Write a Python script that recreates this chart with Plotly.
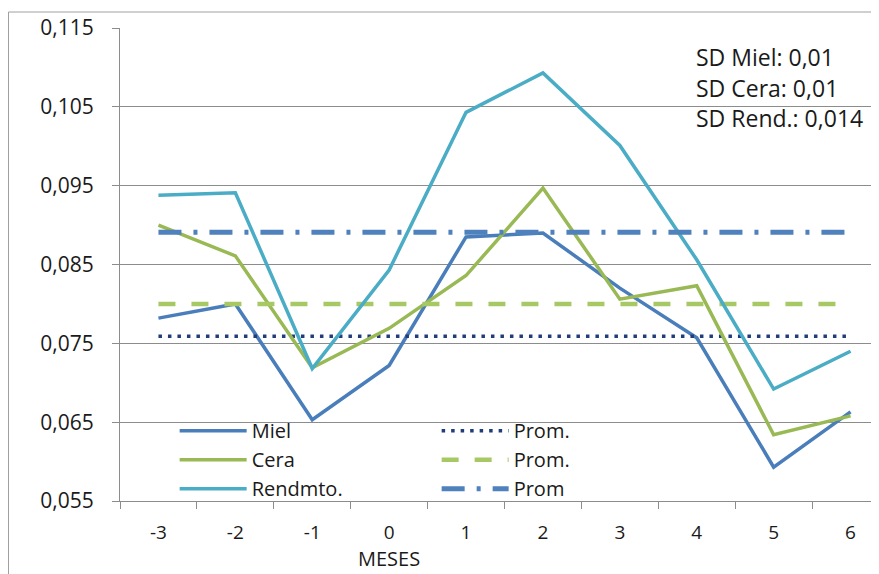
import plotly.graph_objects as go

# Data
meses = [-3, -2, -1, 0, 1, 2, 3, 4, 5, 6]
miel = [0.0782, 0.0800, 0.0653, 0.0722, 0.0885, 0.0890, 0.0820, 0.0757, 0.0593, 0.0663]
cera = [0.0900, 0.0861, 0.0719, 0.0769, 0.0836, 0.0947, 0.0806, 0.0823, 0.0634, 0.0658]
rendmto = [0.0938, 0.0941, 0.0718, 0.0843, 0.1043, 0.1093, 0.1001, 0.0856, 0.0692, 0.0740]
prom_miel = [0.0759, 0.0759, 0.0759, 0.0759, 0.0759, 0.0759, 0.0759, 0.0759, 0.0759, 0.0759]
prom_cera = [0.0800, 0.0800, 0.0800, 0.0800, 0.0800, 0.0800, 0.0800, 0.0800, 0.0800, 0.0800]
prom_rend = [0.0891, 0.0891, 0.0891, 0.0891, 0.0891, 0.0891, 0.0891, 0.0891, 0.0891, 0.0891]
y_ticks = [0.055, 0.065, 0.075, 0.085, 0.095, 0.105, 0.115]
sd_labels = ["SD Miel: 0,01", "SD Cera: 0,01", "SD Rend.: 0,014"]

COLORS = {
    "miel": "#4A7EBB",
    "cera": "#98B954",
    "rend": "#4AACC5",
    "prom_miel": "#1F3D7A",
    "prom_cera": "#A6C965",
    "prom_rend": "#4F81BD",
    "grid": "#8C8C8C",
    "text": "#1A1A1A",
}
FONT = "Open Sans"

fig = go.Figure()

# legend is row-major, so interleave series and averages
fig.add_trace(go.Scatter(x=meses, y=miel, mode="lines", name="Miel",
                         line=dict(color=COLORS["miel"], width=3.5)))
fig.add_trace(go.Scatter(x=meses, y=prom_miel, mode="lines", name="Prom.",
                         line=dict(color=COLORS["prom_miel"], width=3.5, dash="3.5px,6px")))
fig.add_trace(go.Scatter(x=meses, y=cera, mode="lines", name="Cera",
                         line=dict(color=COLORS["cera"], width=3.5)))
fig.add_trace(go.Scatter(x=meses, y=prom_cera, mode="lines", name="Prom.",
                         line=dict(color=COLORS["prom_cera"], width=4.5, dash="17px,16px")))
fig.add_trace(go.Scatter(x=meses, y=rendmto, mode="lines", name="Rendmto.",
                         line=dict(color=COLORS["rend"], width=3.5)))
fig.add_trace(go.Scatter(x=meses, y=prom_rend, mode="lines", name="Prom",
                         line=dict(color=COLORS["prom_rend"], width=5,
                                   dash="23px,12px,4px,12px")))

# SD notes, top right
for i, txt in enumerate(sd_labels):
    fig.add_annotation(text=txt, xref="x", yref="paper", x=3.97, y=0.938 - i * 0.064,
                       xanchor="left", yanchor="middle", showarrow=False,
                       font=dict(family=FONT, size=23, color=COLORS["text"]))

# axis title under category 0 (plot is cropped on the right)
fig.add_annotation(text="MESES", xref="x", yref="paper", x=0, y=-0.122,
                   xanchor="center", yanchor="middle", showarrow=False,
                   font=dict(family=FONT, size=20, color=COLORS["text"]))

# outer chart border
fig.add_shape(type="rect", xref="paper", yref="paper",
              x0=-0.1469, x1=1.2, y0=-0.3, y1=1.0338,
              line=dict(color="#A0A0A0", width=1))

fig.update_layout(
    width=871,
    height=566,
    margin=dict(l=112, r=0, t=20, b=73),
    paper_bgcolor="white",
    plot_bgcolor="white",
    separators=",.",
    font=dict(family=FONT, color=COLORS["text"]),
    showlegend=True,
    legend=dict(
        orientation="h",
        x=0.072, y=0.19, xanchor="left", yanchor="top",
        bgcolor="rgba(0,0,0,0)",
        itemwidth=67,
        entrywidth=180,
        entrywidthmode="pixels",
        font=dict(family=FONT, size=20, color=COLORS["text"]),
        traceorder="normal",
    ),
    xaxis=dict(
        range=[-3.5, 6.37],
        tickvals=meses,
        ticktext=[str(m) for m in meses],
        ticks="",
        showgrid=False,
        zeroline=False,
        showline=True,
        linecolor=COLORS["grid"],
        linewidth=1,
        ticklabelstandoff=14,
        tickfont=dict(family=FONT, size=19, color=COLORS["text"]),
        minor=dict(tick0=-3.5, dtick=1, ticks="outside", ticklen=7,
                   tickcolor=COLORS["grid"], showgrid=False),
    ),
    yaxis=dict(
        range=[0.055, 0.115],
        tickvals=y_ticks,
        tickformat=".3f",
        ticks="outside",
        ticklen=7,
        tickcolor=COLORS["grid"],
        showgrid=True,
        gridcolor=COLORS["grid"],
        gridwidth=1,
        zeroline=False,
        showline=True,
        linecolor=COLORS["grid"],
        linewidth=1,
        ticklabelstandoff=14,
        tickfont=dict(family=FONT, size=21, color=COLORS["text"]),
    ),
)

fig.write_html("out.html")
